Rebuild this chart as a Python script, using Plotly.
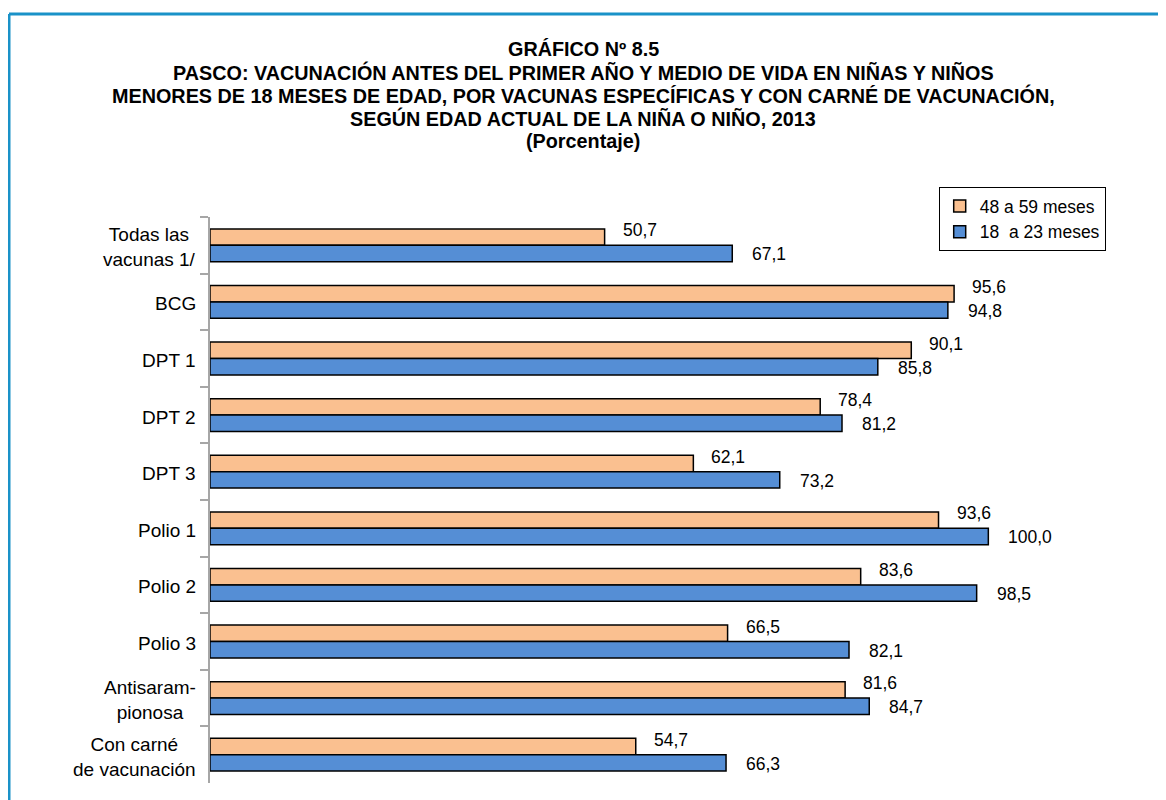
"""
Pasco 2013: vacunación antes del primer año y medio de vida
Horizontal grouped bars with Plotly
"""

import plotly.graph_objects as go

categories = [
    "Todas las<br>vacunas 1/",
    "BCG",
    "DPT 1",
    "DPT 2",
    "DPT 3",
    "Polio 1",
    "Polio 2",
    "Polio 3",
    "Antisaram-<br>pionosa",
    "Con carné<br>de vacunación",
]
series_names = ["48 a 59 meses", "18  a 23 meses"]
values_48_59 = [50.7, 95.6, 90.1, 78.4, 62.1, 93.6, 83.6, 66.5, 81.6, 54.7]
values_18_23 = [67.1, 94.8, 85.8, 81.2, 73.2, 100.0, 98.5, 82.1, 84.7, 66.3]

title_lines = [
    "GRÁFICO Nº 8.5",
    "PASCO: VACUNACIÓN ANTES DEL PRIMER AÑO Y MEDIO DE VIDA EN NIÑAS Y NIÑOS",
    "MENORES DE 18 MESES DE EDAD, POR VACUNAS ESPECÍFICAS Y CON CARNÉ DE VACUNACIÓN,",
    "SEGÚN EDAD ACTUAL DE LA NIÑA O NIÑO, 2013",
    "(Porcentaje)",
]

FONT = "Liberation Sans Narrow, Arial Narrow, Liberation Sans, Arial, sans-serif"
colors = ["#FAC090", "#558ED5"]
# vertical offset (px) of the value labels for each series, relative to group centre
label_shift = [15, -9]
label_gap = [16, 18]

fig = go.Figure()
for name, vals, col in zip(series_names, [values_48_59, values_18_23], colors):
    fig.add_trace(go.Bar(
        y=categories,
        x=vals,
        name=name,
        orientation="h",
        marker=dict(color=col, line=dict(color="#000000", width=1.5)),
        hoverinfo="skip",
    ))

# value labels
for vals, dy, dx in zip([values_48_59, values_18_23], label_shift, label_gap):
    for cat, v in zip(categories, vals):
        fig.add_annotation(
            x=v, xref="x", y=cat, yref="y",
            xanchor="left", yanchor="middle", xshift=dx, yshift=dy,
            text=f"{v:.1f}".replace(".", ","), showarrow=False,
            font=dict(family=FONT, size=17.5, color="#000000"),
        )

# category labels, centred like the original
for cat in categories:
    fig.add_annotation(
        x=0, xref="paper", y=cat, yref="y",
        xanchor="right", xshift=-12, yshift=-2, align="center",
        text=cat, showarrow=False,
        font=dict(family=FONT, size=19, color="#000000"),
    )

# title, one line per annotation (page centred)
for i, line in enumerate(title_lines):
    fig.add_annotation(
        x=0.3994, xref="paper", y=1.2968 - i * 23 / 566, yref="paper",
        xanchor="center", yanchor="middle",
        text=f"<b>{line}</b>", showarrow=False,
        font=dict(family=FONT, size=19.8, color="#000000"),
    )

# frame lines (top and left only)
frame = dict(color="#1A92C8", width=3)
fig.add_shape(type="line", xref="paper", yref="paper",
              x0=-0.2152, x1=1.1, y0=1.3587, y1=1.3587, line=frame)
fig.add_shape(type="line", xref="paper", yref="paper",
              x0=-0.2152, x1=-0.2152, y0=-0.1, y1=1.3587, line=frame)

fig.update_layout(
    width=1166,
    height=800,
    paper_bgcolor="white",
    plot_bgcolor="white",
    margin=dict(l=202, r=30, t=209, b=25),
    barmode="group",
    bargap=0.42,
    bargroupgap=0,
    font=dict(family=FONT, size=19, color="#000000"),
    showlegend=True,
    legend=dict(
        x=0.959, xanchor="right", y=1.053, yanchor="top",
        bordercolor="#000000", borderwidth=1,
        font=dict(family=FONT, size=17.5, color="#000000"),
        itemwidth=30, tracegroupgap=0,
    ),
    xaxis=dict(range=[0, 120], visible=False, fixedrange=True),
    yaxis=dict(
        type="category",
        autorange="reversed",
        showticklabels=False,
        showline=True, linecolor="#A6A6A6", linewidth=1.5,
        ticks="outside", tickson="boundaries", ticklen=8,
        tickcolor="#A6A6A6", tickwidth=1.5,
        showgrid=False, zeroline=False,
        fixedrange=True,
    ),
)

fig.write_html("out.html")
